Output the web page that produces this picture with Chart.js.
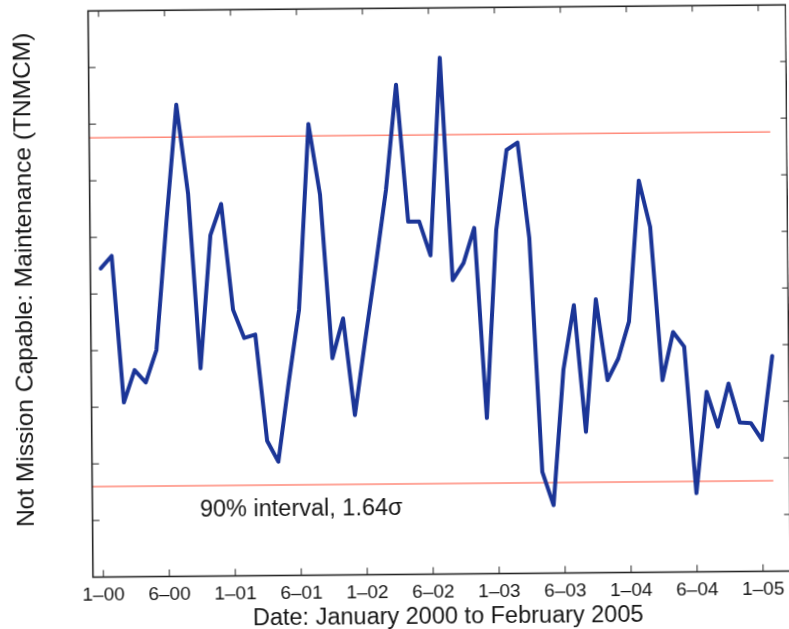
<!DOCTYPE html>
<html>
<head>
<meta charset="utf-8">
<title>TNMCM, January 2000 to February 2005</title>
<script src="https://cdn.jsdelivr.net/npm/chart.js@4/dist/chart.umd.min.js"></script>
<style>
  html, body { margin: 0; padding: 0; background: #ffffff; overflow: hidden; }
  #wrap { width: 789px; height: 629px; position: relative; }
  /* the printed figure sits slightly askew on the page */
  #c { display: block; transform: rotate(-0.5deg); }
</style>
</head>
<body>
<div id="wrap"><canvas id="c" width="789" height="629"></canvas></div>
<script>
// Monthly TNMCM rate, Jan 2000 .. Feb 2005 (62 months), index 0 = Jan 2000
const tnmcm = [
  5.45, 5.67, 3.08, 3.65, 3.43, 4.00, 6.24, 8.33, 6.76, 3.67, 6.02, 6.57,
  4.70, 4.20, 4.26, 2.38, 2.01, 3.40, 4.69, 7.97, 6.72, 3.83, 4.53, 2.82,
  4.15, 5.44, 6.79, 8.65, 6.23, 6.23, 5.63, 9.12, 5.19, 5.49, 6.11, 2.75,
  6.07, 7.48, 7.61, 5.92, 1.79, 1.20, 3.59, 4.73, 2.49, 4.83, 3.40, 3.78,
  4.43, 6.92, 6.10, 3.39, 4.24, 3.98, 1.39, 3.18, 2.56, 3.32, 2.63, 2.62,
  2.32, 3.80
];

// 90% interval (mean +/- 1.64 sigma)
const bandUpper = 7.76;
const bandLower = 1.60;
const bandEnd = 61;

// Date ticks along the bottom axis (month index and label)
const xTickPos    = [0, 6, 12, 18, 24, 30, 36, 42, 48, 54, 60];
const xTickLabels = ['1–00', '6–00', '1–01', '6–01', '1–02', '6–02', '1–03', '6–03', '1–04', '6–04', '1–05'];

// Plot range (month index / arbitrary rate units)
const xMin = -0.95, xMax = 62.5;
const yMin = 0, yMax = 10;

// Text
const xTitle = 'Date: January 2000 to February 2005';
const yTitle = 'Not Mission Capable: Maintenance (TNMCM)';
const noteText = '90% interval, 1.64σ';
const noteX = 8.83, noteY = 1.05;

const FONT = '"Liberation Sans", Arial, Helvetica, sans-serif';
const INK = '#161616';

const series = tnmcm.map((v, i) => ({ x: i, y: v }));
const upperLine = [{ x: xMin, y: bandUpper }, { x: bandEnd, y: bandUpper }];
const lowerLine = [{ x: xMin, y: bandLower }, { x: bandEnd, y: bandLower }];

// Box frame with inward-pointing ticks on all four sides
const framePlugin = {
  id: 'frame',
  afterDatasetsDraw(chart) {
    const { ctx, chartArea: a, scales: { x, y } } = chart;
    ctx.save();
    ctx.strokeStyle = '#262626';
    ctx.lineWidth = 1;
    ctx.beginPath();
    xTickPos.forEach(v => {
      const px = x.getPixelForValue(v);
      ctx.moveTo(px, a.bottom); ctx.lineTo(px, a.bottom - 7);
      ctx.moveTo(px, a.top);    ctx.lineTo(px, a.top + 6);
    });
    y.ticks.forEach(t => {
      if (t.value <= y.min || t.value >= y.max) return;
      const py = y.getPixelForValue(t.value);
      ctx.moveTo(a.left, py);  ctx.lineTo(a.left + 7, py);
      ctx.moveTo(a.right, py); ctx.lineTo(a.right - 6, py);
    });
    ctx.stroke();
    ctx.lineWidth = 1.6;
    ctx.strokeRect(a.left, a.top, a.right - a.left, a.bottom - a.top);
    ctx.restore();
  }
};

// Axis titles and the interval note
const textPlugin = {
  id: 'texts',
  afterDraw(chart) {
    const { ctx, chartArea: a, scales: { x, y } } = chart;
    ctx.save();
    ctx.fillStyle = INK;

    ctx.font = '23.5px ' + FONT;
    ctx.textAlign = 'center';
    ctx.textBaseline = 'alphabetic';
    ctx.fillText(xTitle, (a.left + a.right) / 2 + 6, a.bottom + 49.5);

    ctx.save();
    ctx.translate(31.7, (a.top + a.bottom) / 2 - 14.7);
    ctx.rotate(-Math.PI / 2);
    ctx.font = '24.5px ' + FONT;
    ctx.fillText(yTitle, 0, 0);
    ctx.restore();

    ctx.font = '23.5px ' + FONT;
    ctx.textAlign = 'left';
    ctx.fillText(noteText, x.getPixelForValue(noteX), y.getPixelForValue(noteY));
    ctx.restore();
  }
};

new Chart(document.getElementById('c'), {
  type: 'line',
  data: {
    datasets: [
      {
        data: series,
        borderColor: '#1b3597',
        borderWidth: 4,
        borderJoinStyle: 'round',
        borderCapStyle: 'round',
        pointRadius: 0,
        tension: 0,
        fill: false,
        order: 0
      },
      {
        data: upperLine,
        borderColor: '#ff8a7a',
        borderWidth: 1.5,
        pointRadius: 0,
        fill: false,
        order: 1
      },
      {
        data: lowerLine,
        borderColor: '#ff8a7a',
        borderWidth: 1.5,
        pointRadius: 0,
        fill: false,
        order: 1
      }
    ]
  },
  options: {
    responsive: false,
    animation: false,
    devicePixelRatio: 1,
    layout: { padding: { top: 8.3, right: 0, bottom: 0, left: 0 } },
    plugins: {
      legend: { display: false },
      tooltip: { enabled: false },
      title: { display: false }
    },
    scales: {
      x: {
        type: 'linear',
        min: xMin,
        max: xMax,
        grid: { display: false, drawTicks: false },
        border: { display: false },
        afterBuildTicks: axis => { axis.ticks = xTickPos.map(v => ({ value: v })); },
        afterFit: axis => { axis.height = 54.5; },
        ticks: {
          autoSkip: false,
          maxRotation: 0,
          padding: 7,
          color: INK,
          font: { family: FONT, size: 19 },
          callback: v => xTickLabels[xTickPos.indexOf(v)]
        }
      },
      y: {
        type: 'linear',
        min: yMin,
        max: yMax,
        grid: { display: false, drawTicks: false },
        border: { display: false },
        afterFit: axis => { axis.width = 90.7; },
        ticks: { stepSize: 1, display: false }
      }
    }
  },
  plugins: [framePlugin, textPlugin]
});
</script>
</body>
</html>
